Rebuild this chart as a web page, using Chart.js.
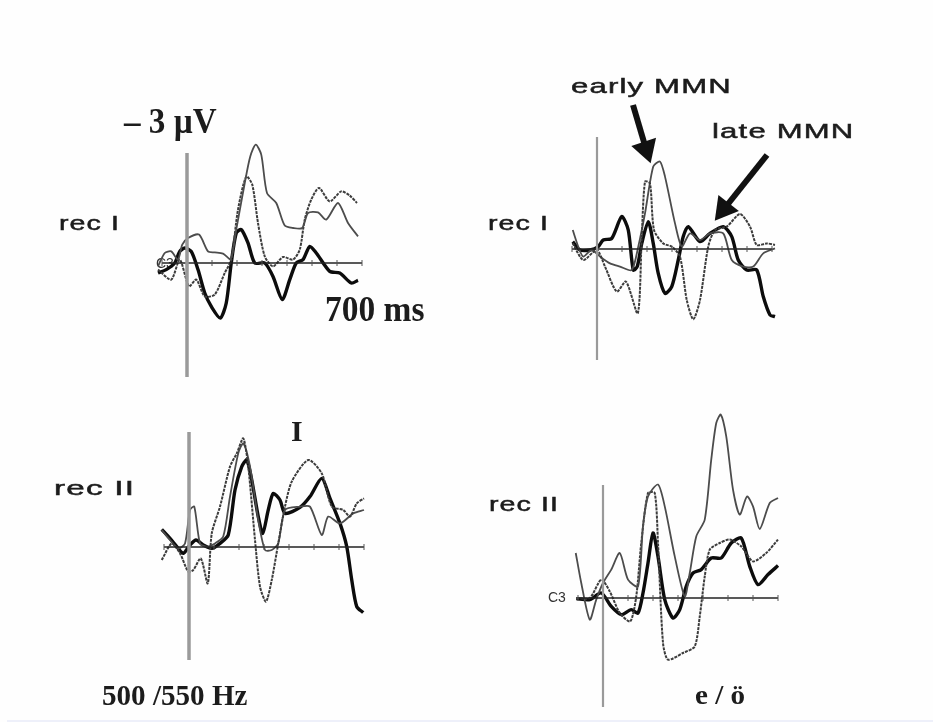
<!DOCTYPE html>
<html>
<head>
<meta charset="utf-8">
<style>
  html, body { margin: 0; padding: 0; background: #fefefe; }
  #page { position: relative; width: 933px; height: 722px; overflow: hidden; filter: blur(0.7px); }
  #edge { position: absolute; left: 7px; right: 0; top: 720px; height: 2px; background: #eef0fa; }
  canvas { position: absolute; }
  .lbl { position: absolute; white-space: nowrap; color: #1c1c1c; line-height: 1; transform-origin: left top; }
  .sans { font-family: "Liberation Sans", sans-serif; font-size: 21px; letter-spacing: 0.8px; -webkit-text-stroke: 0.5px #1c1c1c; }
  .serif { font-family: "Liberation Serif", serif; font-weight: bold; }
</style>
</head>
<body>
<div id="page">
  <div id="edge"></div>
  <div class="lbl serif" style="left:124px;top:103px;font-size:36px;transform:scaleX(0.92)">– 3 µV</div>
  <div class="lbl sans" style="left:59px;top:212px;transform:scaleX(1.36)">rec I</div>
  <div class="lbl sans" style="left:488px;top:212px;transform:scaleX(1.36)">rec I</div>
  <div class="lbl sans" style="left:54px;top:477px;transform:scaleX(1.58)">rec II</div>
  <div class="lbl sans" style="left:489px;top:493px;transform:scaleX(1.36)">rec II</div>
  <div class="lbl serif" style="left:325px;top:291px;font-size:36px;transform:scaleX(0.93)">700 ms</div>
  <div class="lbl serif" style="left:291px;top:416px;font-size:30px">I</div>
  <div class="lbl serif" style="left:102px;top:680px;font-size:30px;transform:scaleX(0.97)">500 /550 Hz</div>
  <div class="lbl serif" style="left:695px;top:681px;font-size:28px;transform:scaleX(1.04)">e / ö</div>
  <div class="lbl sans" style="left:571px;top:75px;transform:scaleX(1.48)">early MMN</div>
  <div class="lbl sans" style="left:712px;top:120px;transform:scaleX(1.48)">late MMN</div>
  <div class="lbl sans" style="left:548px;top:590px;font-size:14px;letter-spacing:0;color:#333;-webkit-text-stroke:0">C3</div>
  <div class="lbl sans" style="left:156px;top:256px;font-size:14px;letter-spacing:0;color:#333;-webkit-text-stroke:0">C3</div>
</div>
<script src="https://cdn.jsdelivr.net/npm/chart.js@4"></script>
<script>
// time in ms, amplitude in uV (negative is up)
const tickTimes = [-100, 0, 100, 200, 300, 400, 500, 600, 700];

// rec I, 500/550 Hz
const a1Thin = [-116,-89,-63,-36,-19,4,48,84,111,144,175,197,231,253,275,297,320,357,391,424,461,484,524,557,604,644,684];
const a1ThinV = [.17,-.5,-.58,-.17,-.92,-1.25,-1.42,-.58,-.53,-.47,-.2,-1.67,-4,-5.33,-5.92,-5.42,-3.5,-3,-1.87,-1.75,-1.75,-2.5,-2.53,-2.17,-3,-2,-1.33];
const a1Dash = [-116,-63,-29,8,37,71,111,151,177,204,237,261,284,311,344,384,424,451,471,497,528,571,617,651,680];
const a1DashV = [.33,.83,-.17,1.17,.83,1.67,1.58,.5,-.17,-2.67,-4.33,-3.92,-2,-.33,.17,-.3,-.17,-.67,-2.17,-3.17,-3.75,-3.08,-3.58,-3.37,-3];
const a1Thick = [-116,-83,-49,-29,-9,17,44,71,97,133,157,177,197,217,244,271,311,344,381,411,437,464,491,517,571,611,657,684];
const a1ThickV = [.5,.33,0,-.58,-.75,-.58,.33,1.5,2.17,2.75,2,0,-1.5,-1.67,-1,0,0,.67,1.83,.83,0,-.17,-.83,-.5,.42,.5,1,.87];

// rec I, e/oe
const b1Dash = [-97,-55,-1,32,79,116,163,179,192,212,228,265,299,332,359,385,412,445,472,519,572,612,639,679,712];
const b1DashV = [-.28,.55,.05,.88,2.13,1.63,3.22,-.62,-3.37,-3.28,-.95,-.28,-.12,.38,2.55,3.52,2.55,-.12,-.95,-1.12,-1.75,-1.12,-.2,-.28,-.2];
const b1Thin = [-97,-75,-55,-21,12,52,92,139,165,192,225,252,272,312,339,372,412,452,505,539,585,625,665,712];
const b1ThinV = [-.95,-.12,.38,.05,.38,.72,.88,1.05,-.12,-1.78,-4.12,-4.37,-3.62,-1.28,-.12,-.78,-.45,-.78,-.78,.55,.88,.88,.22,-.03];
const b1Thick = [-97,-68,-28,5,25,59,99,125,145,161,179,205,225,245,272,299,325,345,365,412,452,505,539,565,599,639,665,692,712];
const b1ThickV = [-.37,.05,.05,-.12,-.45,-.53,-1.62,-.95,1.05,.88,-.28,-1.37,-.28,1.22,2.22,1.88,.55,-.62,-1.12,-.37,-.78,-1.12,-.62,.55,1.05,1.05,2.38,3.3,3.38];

// rec II, 500/550 Hz
const a2Dash = [-109,-69,-36,-3,17,47,75,91,124,164,191,217,237,264,284,308,331,357,384,411,477,531,571,617,644,671,700];
const a2DashV = [.65,-.18,.32,1.23,1.15,.57,1.82,-.68,-2.02,-4.02,-4.68,-5.43,-4.02,-.35,1.98,2.73,1.65,-.18,-2.02,-3.27,-4.35,-3.68,-2.02,-1.85,-1.52,-2.18,-2.43];
const a2Thin = [-109,-76,-43,-16,4,21,44,71,104,137,164,197,217,244,277,304,331,357,384,444,484,531,557,604,657,700];
const a2ThinV = [-.85,-.35,.07,-.18,-1.85,-2.02,-.18,-.02,-.18,-.52,-2.52,-4.68,-5.18,-4.02,-1.35,.15,.15,-.18,-1.85,-2.02,-2.02,-.6,-1.52,-1.18,-1.68,-1.85];
const a2Thick = [-109,-76,-43,-23,4,28,57,91,124,157,184,211,231,251,277,295,317,337,364,384,444,484,531,564,604,631,651,671,697];
const a2ThickV = [-.88,-.43,.07,.32,-.1,-.35,-.1,.07,-.18,-.6,-2.85,-4.02,-4.35,-3.35,-1.52,-.68,-1.85,-2.68,-2.35,-1.68,-1.98,-2.52,-3.43,-2.43,-1.18,-.02,1.65,2.98,3.28];

// rec II, e/oe
const b2Thin = [-109,-87,-53,-27,0,33,67,100,140,160,180,220,247,287,327,347,373,407,433,453,471,493,520,547,576,600,627,667,700];
const b2ThinV = [-2.25,-.75,1.08,.08,-.75,-1.42,-2.25,-.92,-.58,-3.58,-5.08,-5.67,-4.58,-2.08,-.08,-1.25,-3.08,-3.92,-6.92,-8.75,-9.17,-8.08,-5.42,-4.17,-5.08,-4.58,-3.45,-4.75,-5];
const b2Dash = [-107,-53,-7,27,67,109,133,153,180,207,220,240,260,320,367,387,407,427,467,507,553,600,653,700];
const b2DashV = [0,0,-.92,-.33,.75,1.17,-.08,-2.75,-5.25,-5.25,-2.75,2.25,3.08,2.75,2.42,.92,-1.08,-2.42,-2.75,-2.92,-2.58,-1.83,-2.25,-2.92];
const b2Thick = [-107,-53,-7,33,73,113,140,160,180,200,220,247,280,307,333,360,393,433,473,513,553,587,620,660,700];
const b2ThickV = [.03,.08,-.25,.42,.83,.58,.75,-.25,-1.75,-3.25,-2.08,.08,1,.58,-.58,-1.25,-1.42,-2,-2,-2.75,-3,-1.58,-.67,-1.17,-1.62];

// stimulus line extents, uV
const a1Stim = [-5.5, 5.7];
const b1Stim = [-5.6, 5.55];
const a2Stim = [-5.75, 5.65];
const b2Stim = [-5.65, 5.45];

// arrows pointing at the MMN peaks, top panel right
const earlyArrowT = [144, 196];
const earlyArrowV = [-7.2, -5.0];
const lateArrowT = [680, 508];
const lateArrowV = [-4.7, -2.0];

function pts(t, v) { return t.map((x, i) => ({ x, y: v[i] })); }

function thin(t, v) {
  return { data: pts(t, v), borderColor: '#4c4c4c', borderWidth: 1.8, tension: 0.25, pointRadius: 0, showLine: true };
}
function dash(t, v) {
  return { data: pts(t, v), borderColor: '#3c3c3c', borderWidth: 2, borderDash: [3, 1], tension: 0.25, pointRadius: 0, showLine: true };
}
function thick(t, v) {
  return { data: pts(t, v), borderColor: '#0c0c0c', borderWidth: 3.4, tension: 0.25, pointRadius: 0, showLine: true };
}
function baseline() {
  return {
    data: tickTimes.map(x => ({ x, y: 0 })), borderColor: '#222', borderWidth: 1.5, showLine: true,
    pointStyle: 'line', pointRotation: 90, pointRadius: 3, pointBorderColor: '#555', pointBorderWidth: 1
  };
}
function stim(ext, w) {
  return { data: ext.map(y => ({ x: 0, y })), borderColor: '#9a9a9a', borderWidth: w, showLine: true, pointRadius: 0 };
}
function arrow(t, v, rot) {
  return {
    data: pts(t, v), borderColor: '#111', backgroundColor: '#111', borderWidth: 6, showLine: true,
    pointStyle: 'triangle', pointBorderWidth: 0,
    pointRadius: [0, 15], pointRotation: rot
  };
}

function panel(x0, zero, datasets) {
  const c = document.createElement('canvas');
  c.width = 215;
  c.height = 340;
  c.style.left = (x0 - 35) + 'px';
  c.style.top = (zero - 200) + 'px';
  document.getElementById('page').appendChild(c);
  new Chart(c, {
    type: 'scatter',
    data: { datasets },
    options: {
      responsive: false,
      animation: false,
      layout: { padding: 0, autoPadding: false },
      plugins: { legend: { display: false }, tooltip: { enabled: false } },
      scales: {
        x: { type: 'linear', display: false, min: -140, max: 720 },
        y: { type: 'linear', display: false, min: -10, max: 7, reverse: true }
      }
    }
  });
}

panel(187, 263, [stim(a1Stim, 3.5), baseline(), thin(a1Thin, a1ThinV), dash(a1Dash, a1DashV), thick(a1Thick, a1ThickV)]);
panel(597, 249, [stim(b1Stim, 2.2), baseline(), dash(b1Dash, b1DashV), thin(b1Thin, b1ThinV), thick(b1Thick, b1ThickV),
  arrow(earlyArrowT, earlyArrowV, 162), arrow(lateArrowT, lateArrowV, 218)]);
panel(189, 547, [stim(a2Stim, 3.5), baseline(), dash(a2Dash, a2DashV), thin(a2Thin, a2ThinV), thick(a2Thick, a2ThickV)]);
panel(603, 598, [stim(b2Stim, 2.2), baseline(), thin(b2Thin, b2ThinV), dash(b2Dash, b2DashV), thick(b2Thick, b2ThickV)]);
</script>
</body>
</html>
